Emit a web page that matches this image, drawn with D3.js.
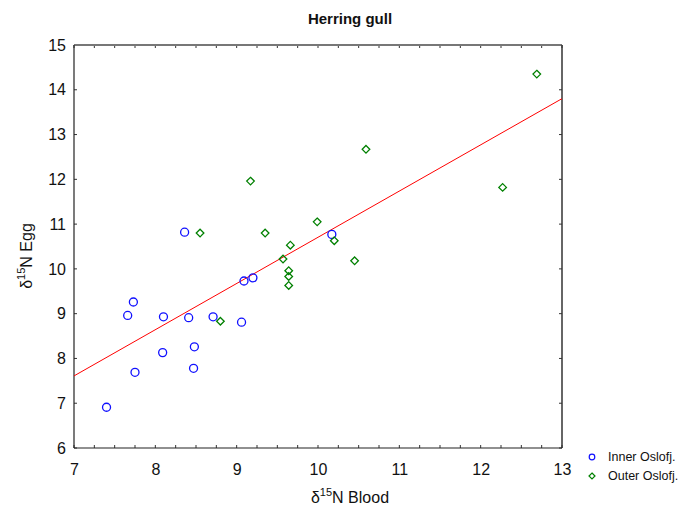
<!DOCTYPE html>
<html><head><meta charset="utf-8">
<script src="https://cdn.jsdelivr.net/npm/d3@7/dist/d3.min.js"></script>
<style>body{margin:0;background:#fff;}svg{display:block;font-family:Arial,"Liberation Sans",sans-serif;}</style>
</head><body>
<svg id="c" width="691" height="513"></svg>
<script>
const innerX = [8.36, 7.73, 7.66, 8.10, 8.41, 8.71, 9.06, 9.09, 9.20, 8.09, 8.48, 7.75, 8.47, 7.40, 10.17];
const innerY = [10.82, 9.26, 8.96, 8.93, 8.91, 8.93, 8.81, 9.73, 9.80, 8.13, 8.26, 7.69, 7.78, 6.91, 10.77];
const outerX = [8.55, 9.35, 9.66, 9.57, 9.64, 9.64, 9.64, 8.80, 9.17, 9.99, 10.20, 10.45, 12.69, 12.27, 10.59];
const outerY = [10.80, 10.80, 10.53, 10.22, 9.96, 9.83, 9.63, 8.83, 11.96, 11.05, 10.63, 10.18, 14.35, 11.82, 12.67];
const fitLine = {intercept: 0.386, slope: 1.032};
const xTicks = [7, 8, 9, 10, 11, 12, 13];
const yTicks = [6, 7, 8, 9, 10, 11, 12, 13, 14, 15];
const seriesNames = ["Inner Oslofj.", "Outer Oslofj."];
const titleText = "Herring gull";

const svg = d3.select("#c");
const L = 74, R = 562, T = 45, B = 448;
const x = d3.scaleLinear().domain([7, 13]).range([L, R]);
const y = d3.scaleLinear().domain([6, 15]).range([B, T]);

const xMinor = d3.range(7, 13.001, 0.25);
const g = svg.append("g");
xMinor.forEach(v => {
  g.append("line").attr("x1", x(v)).attr("x2", x(v)).attr("y1", B).attr("y2", B - 3).attr("stroke", "#333");
  g.append("line").attr("x1", x(v)).attr("x2", x(v)).attr("y1", T).attr("y2", T + 3).attr("stroke", "#333");
});
yTicks.forEach(v => {
  g.append("line").attr("x1", L).attr("x2", L + 3).attr("y1", y(v)).attr("y2", y(v)).attr("stroke", "#333");
  g.append("line").attr("x1", R).attr("x2", R - 3).attr("y1", y(v)).attr("y2", y(v)).attr("stroke", "#333");
});

const xAxis = svg.append("g").attr("transform", `translate(0,${B})`)
  .call(d3.axisBottom(x).tickValues(xTicks).tickSize(0).tickPadding(16).tickFormat(d3.format("d")));
const yAxis = svg.append("g").attr("transform", `translate(${L},0)`)
  .call(d3.axisLeft(y).tickValues(yTicks).tickSize(0).tickPadding(8).tickFormat(d3.format("d")));
[xAxis, yAxis].forEach(a => {
  a.select(".domain").remove();
  a.selectAll("text").attr("font-size", 16).attr("fill", "#111").attr("font-family", "Arial, 'Liberation Sans', sans-serif");
});

svg.append("line").attr("x1", L).attr("x2", R).attr("y1", T).attr("y2", T).attr("stroke", "#777").attr("stroke-width", 2);
svg.append("line").attr("x1", R).attr("x2", R).attr("y1", T).attr("y2", B).attr("stroke", "#333").attr("stroke-width", 1.5);
svg.append("line").attr("x1", L).attr("x2", L).attr("y1", T).attr("y2", B).attr("stroke", "#222").attr("stroke-width", 1.2);
svg.append("line").attr("x1", L).attr("x2", R).attr("y1", B).attr("y2", B).attr("stroke", "#222").attr("stroke-width", 1.2);

svg.append("clipPath").attr("id", "pc").append("rect").attr("x", L).attr("y", T).attr("width", R - L).attr("height", B - T);
svg.append("line").attr("clip-path", "url(#pc)")
  .attr("x1", x(7)).attr("y1", y(fitLine.intercept + fitLine.slope * 7))
  .attr("x2", x(13)).attr("y2", y(fitLine.intercept + fitLine.slope * 13))
  .attr("stroke", "#ff0000").attr("stroke-width", 1);

const blue = "#1010ff", green = "#008000";
const diamond = (cx, cy, s) => `M${cx},${cy - s}L${cx + s},${cy}L${cx},${cy + s}L${cx - s},${cy}Z`;

svg.append("g").selectAll("circle").data(innerX.map((v, i) => [v, innerY[i]])).join("circle")
  .attr("cx", d => x(d[0])).attr("cy", d => y(d[1])).attr("r", 4)
  .attr("fill", "none").attr("stroke", blue).attr("stroke-width", 1.3);
svg.append("g").selectAll("path").data(outerX.map((v, i) => [v, outerY[i]])).join("path")
  .attr("d", d => diamond(x(d[0]), y(d[1]), 3.8))
  .attr("fill", "none").attr("stroke", green).attr("stroke-width", 1.3);

svg.append("text").attr("x", 350).attr("y", 24).attr("text-anchor", "middle")
  .attr("font-size", 15).attr("font-weight", "bold").attr("fill", "#111").text(titleText);

const xt = svg.append("text").attr("x", 350).attr("y", 503).attr("text-anchor", "middle").attr("font-size", 16).attr("fill", "#111");
xt.append("tspan").text("δ");
xt.append("tspan").attr("font-size", 11).attr("dy", -7).text("15");
xt.append("tspan").attr("dy", 7).text("N Blood");

const yt = svg.append("text").attr("transform", "translate(32,256) rotate(-90)").attr("text-anchor", "middle").attr("font-size", 16).attr("fill", "#111");
yt.append("tspan").text("δ");
yt.append("tspan").attr("font-size", 11).attr("dy", -7).text("15");
yt.append("tspan").attr("dy", 7).text("N Egg");

const leg = svg.append("g");
const legY = [457, 476];
leg.append("circle").attr("cx", 592).attr("cy", legY[0]).attr("r", 2.8).attr("fill", "none").attr("stroke", blue).attr("stroke-width", 1.2);
leg.append("path").attr("d", diamond(592, legY[1], 3)).attr("fill", "none").attr("stroke", green).attr("stroke-width", 1.2);
seriesNames.forEach((n, i) => {
  leg.append("text").attr("x", 608).attr("y", legY[i]).attr("dy", "0.35em").attr("font-size", 12.5).attr("fill", "#111").text(n);
});
</script>
</body></html>
